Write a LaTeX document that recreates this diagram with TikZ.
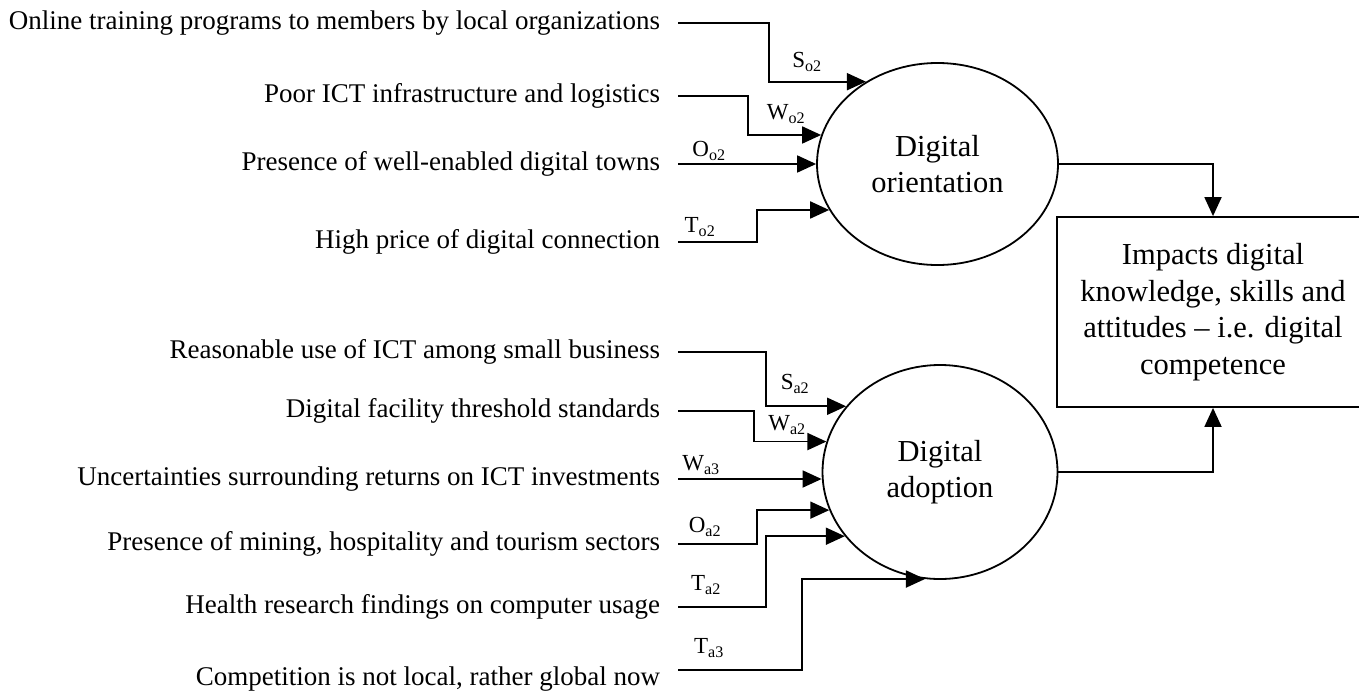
\documentclass[tikz,border=0pt]{standalone}
\usepackage{fontspec}
\setmainfont{Liberation Serif}
\usetikzlibrary{arrows.meta,shapes.geometric}

\tikzset{
  factor/.style={anchor=east, inner xsep=0pt, outer xsep=18pt, font=\fontsize{27}{32}\selectfont},
  tag/.style={inner sep=0pt, font=\fontsize{23}{27}\selectfont},
  stage/.style={ellipse, draw, line width=1.8pt, align=center, font=\fontsize{30.5}{36}\selectfont},
  outcome/.style={rectangle, draw, line width=1.8pt, align=center, font=\fontsize{30.5}{36.5}\selectfont},
  flow/.style={line width=1.8pt, -{Triangle[length=19pt,width=17pt]}},
}

\begin{document}
\begin{tikzpicture}[x=1pt,y=-1pt]
\useasboundingbox (0,0) rectangle (1359,691);

% stages and outcome
\node[stage, minimum width=241pt, minimum height=202pt] (orient) at (937.5,164) {Digital\\orientation};
\node[stage, minimum width=235pt, minimum height=214pt] (adopt) at (940,472) {Digital\\adoption};
\node[outcome, minimum width=312pt, minimum height=190pt] (impact) at (1213,312)
  {Impacts digital\\knowledge, skills and\\attitudes -- i.e. digital\\competence};

% factors feeding digital orientation
\node[factor] (o1) at (678,23) {Online training programs to members by local organizations};
\node[factor] (o2) at (678,96) {Poor ICT infrastructure and logistics};
\node[factor] (o3) at (678,164) {Presence of well-enabled digital towns};
\node[factor] (o4) at (678,242) {High price of digital connection};

% factors feeding digital adoption
\node[factor] (a1) at (678,352) {Reasonable use of ICT among small business};
\node[factor] (a2) at (678,411) {Digital facility threshold standards};
\node[factor] (a3) at (678,479) {Uncertainties surrounding returns on ICT investments};
\node[factor] (a4) at (678,544) {Presence of mining, hospitality and tourism sectors};
\node[factor] (a5) at (678,607) {Health research findings on computer usage};
\node[factor] (a6) at (678,679) {Competition is not local, rather global now};

\draw[flow] (o1.east) -- ++(91,0) |- (orient.131.5);
\draw[flow] (o2.east) -- ++(70,0) |- (orient.166.3);
\draw[flow] (o3.east) -- (orient.west);
\draw[flow] (o4.east) -- ++(79,0) |- (orient.203.9);

\draw[flow] (a1.east) -- ++(88,0) |- (adopt.145.9);
\draw[flow] (a2.east) -- ++(76,0) |- (adopt.165.7);
\draw[flow] (a3.east) -- (a3.east -| adopt.west);
\draw[flow] (a4.east) -- ++(79,0) |- (adopt.199.5);
\draw[flow] (a5.east) -- ++(88,0) |- (adopt.214.7);
\draw[flow] ([yshift=9pt]a6.east) -- ++(124,0) |- (adopt.262);

\draw[flow] (orient.east) -| (impact.north);
\draw[flow] (adopt.east) -| (impact.south);

% SWOT tags
\node[tag] (so2) at (807,62) {S\textsubscript{o2}};
\node[tag] (wo2) at (786,114) {W\textsubscript{o2}};
\node[tag] (oo2) at (709,151) {O\textsubscript{o2}};
\node[tag] (to2) at (700,227) {T\textsubscript{o2}};
\node[tag] (sa2) at (795,384) {S\textsubscript{a2}};
\node[tag] (wa2) at (787,425) {W\textsubscript{a2}};
\node[tag] (wa3) at (701,465) {W\textsubscript{a3}};
\node[tag] (oa2) at (705,527) {O\textsubscript{a2}};
\node[tag] (ta2) at (706,585) {T\textsubscript{a2}};
\node[tag] (ta3) at (709,648) {T\textsubscript{a3}};
\end{tikzpicture}
\end{document}
